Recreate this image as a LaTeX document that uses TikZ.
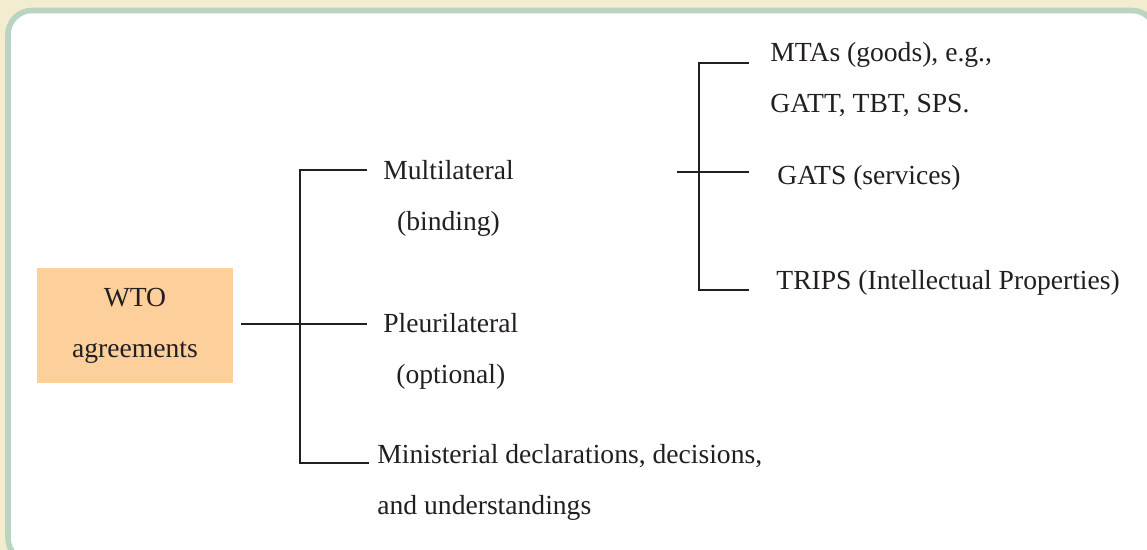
\documentclass[tikz,border=0pt]{standalone}
\usepackage{fontspec}
\setmainfont{Liberation Serif}
\usepackage{tikz}
\definecolor{framebg}{HTML}{F3EDCF}
\definecolor{framegreen}{HTML}{BAD4C2}
\definecolor{boxpeach}{HTML}{FDD09B}
\definecolor{inkgray}{HTML}{231F20}
\tikzset{
  lbl/.style={anchor=base west,inner sep=0pt,text=inkgray,font=\fontsize{13.8}{25.5}\selectfont},
  branch/.style={draw=inkgray,line width=0.55pt}
}
\begin{document}
\begin{tikzpicture}[x=0.5pt,y=-0.5pt]
% frame
\useasboundingbox (0,0) rectangle (1147,550);
\fill[framebg] (0,0) rectangle (1147,550);
\draw[framegreen,line width=2.8pt,fill=white,rounded corners=12pt] (8,10.5) rectangle (1156,562);
% root box
\node[fill=boxpeach,minimum width=98pt,minimum height=57.5pt,outer xsep=4pt,align=center,
  text=inkgray,font=\fontsize{13.8}{25.5}\selectfont] (wto) at (135,325.5) {WTO\\agreements};
% first level (placed at baseline of last line)
\node[lbl,align=center] (multi) at (383,231) {Multilateral\\(binding)};
\node[lbl,align=center] (pleuri) at (383,384) {Pleurilateral\\(optional)};
\node[lbl,align=left] (minis) at (377,515) {Ministerial declarations, decisions,\\and understandings};
% second level
\node[lbl,align=left] (mtas) at (770,113) {MTAs (goods), e.g.,\\GATT, TBT, SPS.};
\node[lbl] (gats) at (777,185) {GATS (services)};
\node[lbl] (trips) at (776,290) {TRIPS (Intellectual Properties)};
% left bracket
\coordinate (multi-in) at (367,170);
\coordinate (pleuri-in) at (367,324);
\coordinate (minis-in) at (369,463);
\coordinate (lspine) at (300,324);
\draw[branch] (multi-in) -| (lspine) |- (minis-in);
\draw[branch] (wto.east |- pleuri-in) -- (pleuri-in);
% right bracket
\coordinate (mtas-in) at (749,63);
\coordinate (gats-in) at (749,172);
\coordinate (trips-in) at (749,290);
\coordinate (rspine) at (699,172);
\coordinate (rstub) at (677,172);
\draw[branch] (mtas-in) -| (rspine) |- (trips-in);
\draw[branch] (rstub) -- (gats-in);
\end{tikzpicture}
\end{document}
